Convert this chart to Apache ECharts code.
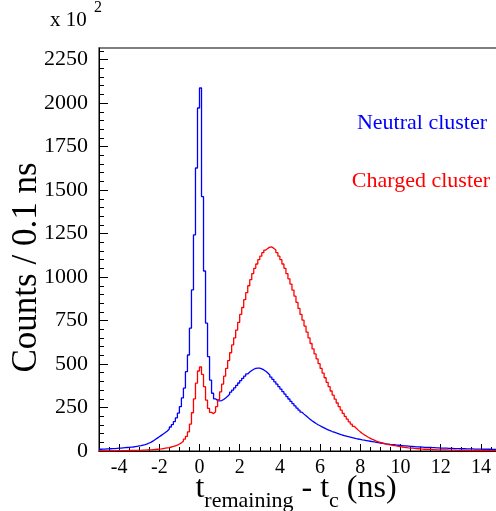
<!DOCTYPE html>
<html><head><meta charset="utf-8">
<script src="https://cdn.jsdelivr.net/npm/echarts@6/dist/echarts.min.js"></script>
<style>html,body{margin:0;padding:0;background:#fff}#c{width:496px;height:511px}</style>
</head><body><div id="c"></div>
<script>
// Histogram binning (ns)
const binStart = -5;
const binWidth = 0.1;

// Neutral cluster counts (x10^2) per 0.1 ns bin, starting at -5.0
const neutral = [
  10, 11, 11, 12, 12, 13, 14, 14, 15, 16,
  17, 18, 19, 20, 21, 22, 23, 25, 27, 29,
  31, 34, 37, 41, 46, 51, 58, 66, 74, 82,
  90, 98, 106, 115, 126, 138, 152, 169, 190, 218,
  255, 305, 362, 456, 552, 706, 926, 1243, 1627, 1972,
  2087, 1463, 1035, 735, 543, 408, 332, 300, 290, 288,
  290, 296, 305, 315, 326, 338, 350, 363, 377, 391,
  405, 418, 431, 443, 454, 463, 470, 475, 477, 476,
  472, 466, 458, 448, 437, 425, 412, 398, 384, 370,
  356, 341, 327, 313, 299, 285, 272, 259, 247, 235,
  223, 212, 202, 192, 183, 174, 166, 158, 151, 145,
  139, 133, 127, 122, 117, 112, 108, 104, 100, 96,
  92, 89, 86, 83, 80, 77, 74, 71, 69, 67,
  64, 62, 60, 58, 56, 54, 52, 50, 48, 46,
  44, 43, 41, 40, 38, 37, 36, 34, 33, 32,
  31, 30, 29, 28, 27, 26, 25, 24, 24, 23,
  22, 21, 21, 20, 20, 19, 19, 18, 18, 17,
  17, 16, 16, 15, 15, 15, 14, 14, 14, 13,
  13, 13, 12, 12, 12, 12, 11, 11, 11, 11,
  10, 10, 10, 10, 10, 9, 9, 9, 9, 9
];

// Charged cluster counts (x10^2) per 0.1 ns bin, starting at -5.0
const charged = [
  1, 1, 1, 1, 1, 1, 1, 1, 2, 2,
  2, 2, 2, 2, 3, 3, 3, 3, 4, 4,
  4, 5, 5, 6, 6, 7, 8, 9, 10, 11,
  12, 14, 16, 18, 20, 23, 26, 30, 34, 40,
  47, 56, 68, 84, 110, 155, 220, 300, 390, 460,
  483, 440, 370, 292, 245, 222, 215, 225, 255, 295,
  340, 385, 430, 475, 520, 565, 610, 650, 695, 740,
  785, 825, 870, 910, 950, 985, 1020, 1050, 1075, 1100,
  1120, 1140, 1155, 1165, 1172, 1173, 1165, 1155, 1140, 1120,
  1100, 1075, 1050, 1020, 990, 960, 925, 890, 855, 820,
  785, 752, 718, 684, 650, 618, 587, 558, 530, 502,
  475, 448, 421, 395, 370, 345, 321, 298, 276, 255,
  235, 216, 199, 183, 168, 155, 142, 131, 120, 110,
  101, 93, 86, 79, 73, 67, 62, 57, 53, 49,
  46, 43, 40, 37, 35, 33, 31, 29, 27, 25,
  23, 21, 20, 18, 17, 16, 15, 14, 13, 12,
  11, 10, 10, 9, 9, 8, 8, 7, 7, 7,
  6, 6, 6, 5, 5, 5, 5, 4, 4, 4,
  4, 4, 4, 3, 3, 3, 3, 3, 3, 3,
  3, 3, 3, 2, 2, 2, 2, 2, 2, 2
];

// Axis ticks and labels
const xMajorTicks = [-4, -2, 0, 2, 4, 6, 8, 10, 12, 14];
const xMinorTicks = [-4.5, -3.5, -3, -2.5, -1.5, -1, -0.5, 0.5, 1, 1.5, 2.5, 3, 3.5, 4.5, 5, 5.5, 6.5, 7, 7.5, 8.5, 9, 9.5, 10.5, 11, 11.5, 12.5, 13, 13.5, 14.5];
const yMajorTicks = [0, 250, 500, 750, 1000, 1250, 1500, 1750, 2000, 2250];
const yMinorTicks = [50,100,150,200,300,350,400,450,550,600,650,700,800,850,900,950,1050,1100,1150,1200,1300,1350,1400,1450,1550,1600,1650,1700,1800,1850,1900,1950,2050,2100,2150,2200,2300];
const xRange = [-5, 15];
const yRange = [0, 2317];

const seriesNames = ['Neutral cluster', 'Charged cluster'];
const FONT = 'Liberation Serif';

function toSteps(vals) {
  const pts = vals.map((v, i) => [binStart + i * binWidth, v]);
  pts.push([binStart + vals.length * binWidth, vals[vals.length - 1]]);
  return pts;
}

const chart = echarts.init(document.getElementById('c'), null, {renderer: 'canvas'});
const axisCommon = {type: 'value', min: xRange[0], max: xRange[1], position: 'bottom', splitLine: {show: false}};
chart.setOption({
  animation: false,
  backgroundColor: '#fff',
  grid: {left: 99, top: 48, right: -5, bottom: 60, show: true, borderColor: '#555', borderWidth: 1.5, outerBoundsMode: 'none', containLabel: false},
  xAxis: [
    Object.assign({}, axisCommon, {
      axisLine: {show: true, onZero: false, lineStyle: {color: '#000', width: 1}},
      axisTick: {show: true, inside: true, length: 7, customValues: xMajorTicks, lineStyle: {color: '#000'}},
      axisLabel: {customValues: xMajorTicks, fontSize: 20, fontFamily: FONT, color: '#000', margin: 7, formatter: v => String(v)},
      name: '{m|t}{s|remaining}{m| - t}{s|c}{m| (ns)}',
      nameLocation: 'middle',
      nameGap: 29,
      nameMoveOverlap: false,
      nameTextStyle: {
        fontFamily: FONT, color: '#000', padding: [0, 0, 0, -8],
        rich: {
          m: {fontSize: 32, fontFamily: FONT, color: '#000', verticalAlign: 'bottom', lineHeight: 32, padding: [0, 0, 7, 0]},
          s: {fontSize: 22, fontFamily: FONT, color: '#000', verticalAlign: 'bottom', lineHeight: 24}
        }
      }
    }),
    Object.assign({}, axisCommon, {
      axisLine: {show: false, onZero: false},
      axisTick: {show: true, inside: true, length: 4, customValues: xMinorTicks, lineStyle: {color: '#000'}},
      axisLabel: {show: false}
    })
  ],
  yAxis: [
    {type: 'value', min: yRange[0], max: yRange[1], position: 'left', splitLine: {show: false},
      axisLine: {show: true, onZero: false, lineStyle: {color: '#000', width: 1}},
      axisTick: {show: true, inside: true, length: 9, customValues: yMajorTicks, lineStyle: {color: '#000'}},
      axisLabel: {customValues: yMajorTicks, fontSize: 22, fontFamily: FONT, color: '#000', margin: 11, formatter: v => String(v)},
      name: 'Counts / 0.1 ns', nameLocation: 'middle', nameRotate: 90, nameGap: 55, nameMoveOverlap: false,
      nameTextStyle: {fontSize: 35, fontFamily: FONT, color: '#000', padding: [0, 36, 0, 0]}
    },
    {type: 'value', min: yRange[0], max: yRange[1], position: 'left', splitLine: {show: false},
      axisLine: {show: false, onZero: false},
      axisTick: {show: true, inside: true, length: 5, customValues: yMinorTicks, lineStyle: {color: '#000'}},
      axisLabel: {show: false}
    }
  ],
  series: [
    {name: seriesNames[0], type: 'line', step: 'end', symbol: 'none', data: toSteps(neutral),
      lineStyle: {color: '#0000ff', width: 1.3}, itemStyle: {color: '#0000ff'}},
    {name: seriesNames[1], type: 'line', step: 'end', symbol: 'none', data: toSteps(charged),
      lineStyle: {color: '#ff0000', width: 1.3}, itemStyle: {color: '#ff0000'}}
  ],
  graphic: [
    {type: 'text', left: 50, top: 10, style: {text: 'x 10', fontSize: 21, fontFamily: FONT, fill: '#000'}},
    {type: 'text', left: 94, top: 0, style: {text: '2', fontSize: 16, fontFamily: FONT, fill: '#000'}},
    {type: 'text', x: 422, y: 123, style: {text: seriesNames[0], fontSize: 22, fontFamily: FONT, fill: '#0000ff', align: 'center', verticalAlign: 'middle'}},
    {type: 'text', x: 421, y: 181, style: {text: seriesNames[1], fontSize: 22, fontFamily: FONT, fill: '#ff0000', align: 'center', verticalAlign: 'middle'}}
  ]
});
</script>
</body></html>
